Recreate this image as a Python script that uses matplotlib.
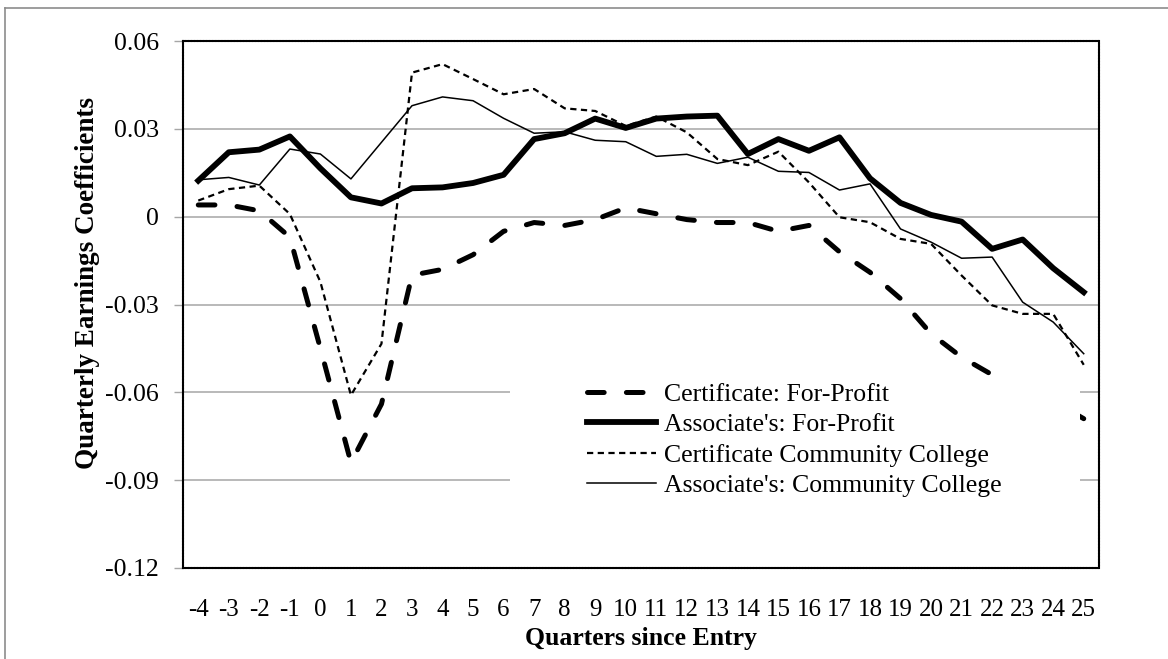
import numpy as np
import matplotlib
matplotlib.use("Agg")
import matplotlib.pyplot as plt
from matplotlib.patches import Rectangle
from matplotlib.lines import Line2D

# data
quarters = list(range(-4, 26))
cert_fp = [0.004, 0.004, 0.002, -0.007, -0.045, -0.084, -0.064, -0.020, -0.018, -0.013,
           -0.005, -0.002, -0.003, -0.001, 0.003, 0.001, -0.001, -0.002, -0.002, -0.005,
           -0.003, -0.012, -0.019, -0.028, -0.040, -0.048, -0.054, -0.058, -0.063, -0.069]
assoc_fp = [0.0123, 0.0220, 0.0229, 0.0274, 0.0165, 0.0066, 0.0045, 0.0097, 0.0100, 0.0115,
            0.0143, 0.0265, 0.0285, 0.0335, 0.0303, 0.0335, 0.0342, 0.0345, 0.0214, 0.0265,
            0.0225, 0.0271, 0.0131, 0.0047, 0.0006, -0.0017, -0.0110, -0.0078, -0.0176, -0.0258]
cert_cc = [0.0055, 0.0094, 0.0106, 0.0009, -0.0223, -0.0610, -0.0434, 0.0492, 0.0521, 0.0470,
           0.0418, 0.0436, 0.0370, 0.0361, 0.0310, 0.0342, 0.0288, 0.0197, 0.0176, 0.0222,
           0.0117, -0.0002, -0.0019, -0.0076, -0.0093, -0.0201, -0.0303, -0.0332, -0.0332, -0.0506]
assoc_cc = [0.0126, 0.0134, 0.0108, 0.0231, 0.0214, 0.0129, 0.0254, 0.0379, 0.0409, 0.0396,
            0.0336, 0.0285, 0.0290, 0.0261, 0.0256, 0.0206, 0.0213, 0.0182, 0.0203, 0.0155,
            0.0151, 0.0091, 0.0112, -0.0042, -0.0087, -0.0142, -0.0138, -0.0292, -0.0360, -0.0468]
names = ["Certificate: For-Profit", "Associate's: For-Profit",
         "Certificate Community College", "Associate's: Community College"]
yticks = [0.06, 0.03, 0, -0.03, -0.06, -0.09, -0.12]
ylabels = ["0.06", "0.03", "0", "-0.03", "-0.06", "-0.09", "-0.12"]

plt.rcParams['font.family'] = ['Liberation Serif', 'DejaVu Serif']
plt.rcParams['lines.scale_dashes'] = False

W, H = 1168, 659
fig = plt.figure(figsize=(W / 100, H / 100), dpi=100)
# plot area in pixels
PL, PR, PT, PB = 183, 1099, 41, 568
ax = fig.add_axes([PL / W, 1 - PB / H, (PR - PL) / W, (PB - PT) / H])

x = np.arange(len(quarters))
ax.plot(x, cert_fp, color='black', lw=3.6, dashes=(12, 16), dash_capstyle='round',
        label=names[0], zorder=3)
ax.plot(x, assoc_fp, color='black', lw=4.2, solid_joinstyle='round', label=names[1], zorder=3)
ax.plot(x, cert_cc, color='black', lw=1.6, dashes=(4.5, 3.2), label=names[2], zorder=3)
ax.plot(x, assoc_cc, color='black', lw=1.1, label=names[3], zorder=3)

ax.set_xlim(-0.5, len(quarters) - 0.5)
ax.set_ylim(-0.12, 0.06)
ax.set_xticks(x, [str(q) for q in quarters])
ax.set_yticks(yticks, ylabels)
for t in yticks[1:-1]:
    ax.axhline(t, color='#a6a6a6', lw=1.1, zorder=1)
ax.tick_params(axis='x', length=0, labelsize=18, pad=22)
ax.tick_params(axis='y', length=6.5, width=1, color='#a6a6a6', labelsize=18.5, pad=11)
for s in ax.spines.values():
    s.set_linestyle((0, (1.1, 1.1)))
    s.set_linewidth(1.5)
    s.set_color('black')

ax.set_xlabel("Quarters since Entry", fontsize=18.5, fontweight='bold')
ax.xaxis.set_label_coords(0.5, (PB - 627) / (PB - PT))
ax.set_ylabel("Quarterly Earnings Coefficients", fontsize=19.5, fontweight='bold')
ax.yaxis.set_label_coords((100 - PL) / (PR - PL), (PB - 283) / (PB - PT))

# white legend area covering the lines
ax.add_patch(Rectangle(((510 - PL) / (PR - PL), (PB - 512) / (PB - PT)),
                       (1080 - 510) / (PR - PL), (512 - 378) / (PB - PT),
                       transform=ax.transAxes, facecolor='white', edgecolor='none', zorder=4))
leg = ax.legend(loc='center left', bbox_to_anchor=(587 / W, 1 - 440 / H),
                bbox_transform=fig.transFigure, frameon=False, fontsize=18.5,
                handlelength=2.7, handletextpad=0.3, labelspacing=0.28, borderpad=0,
                borderaxespad=0)
leg.set_zorder(5)

# outer chart border
fig.add_artist(Line2D([5 / W, 5 / W], [0, 1 - 8 / H], color='#8c8c8c', lw=1.2))
fig.add_artist(Line2D([5 / W, 1], [1 - 8 / H, 1 - 8 / H], color='#8c8c8c', lw=1.2))

fig.savefig("out.png", dpi=100)
